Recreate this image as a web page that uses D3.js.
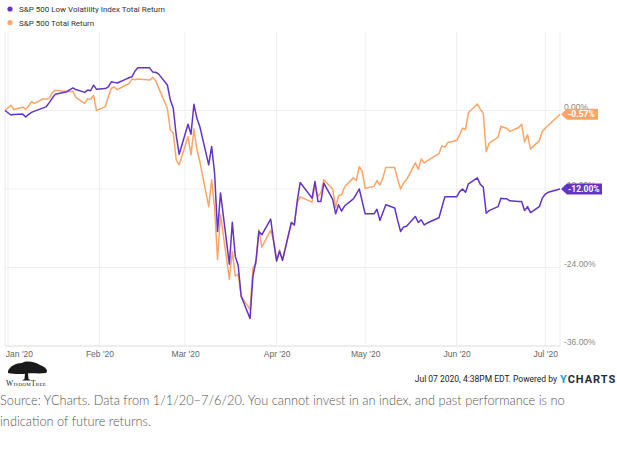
<!DOCTYPE html>
<html>
<head>
<meta charset="utf-8">
<script src="https://cdn.jsdelivr.net/npm/d3@7"></script>
<style>
  body { margin: 0; background: #fff; }
  svg { display: block; font-family: Roboto, "Liberation Sans", sans-serif; }
</style>
</head>
<body>
<div id="chart"></div>
<script>
// chart size
const w = 617;
const h = 449;

// series names
const names = ["S&P 500 Low Volatility Index Total Return", "S&P 500 Total Return"];

// trading days
const dates = [
  "2019-12-31","2020-01-02","2020-01-03","2020-01-06","2020-01-07","2020-01-08","2020-01-09","2020-01-10",
  "2020-01-13","2020-01-14","2020-01-15","2020-01-16","2020-01-17","2020-01-21","2020-01-22","2020-01-23",
  "2020-01-24","2020-01-27","2020-01-28","2020-01-29","2020-01-30","2020-01-31","2020-02-03","2020-02-04",
  "2020-02-05","2020-02-06","2020-02-07","2020-02-10","2020-02-11","2020-02-12","2020-02-13","2020-02-14",
  "2020-02-18","2020-02-19","2020-02-20","2020-02-21","2020-02-24","2020-02-25","2020-02-26","2020-02-27",
  "2020-02-28","2020-03-02","2020-03-03","2020-03-04","2020-03-05","2020-03-06","2020-03-09","2020-03-10",
  "2020-03-11","2020-03-12","2020-03-13","2020-03-16","2020-03-17","2020-03-18","2020-03-19","2020-03-20",
  "2020-03-23","2020-03-24","2020-03-25","2020-03-26","2020-03-27","2020-03-30","2020-03-31","2020-04-01",
  "2020-04-02","2020-04-03","2020-04-06","2020-04-07","2020-04-08","2020-04-09","2020-04-13","2020-04-14",
  "2020-04-15","2020-04-16","2020-04-17","2020-04-20","2020-04-21","2020-04-22","2020-04-23","2020-04-24",
  "2020-04-27","2020-04-28","2020-04-29","2020-04-30","2020-05-01","2020-05-04","2020-05-05","2020-05-06",
  "2020-05-07","2020-05-08","2020-05-11","2020-05-12","2020-05-13","2020-05-14","2020-05-15","2020-05-18",
  "2020-05-19","2020-05-20","2020-05-21","2020-05-22","2020-05-26","2020-05-27","2020-05-28","2020-05-29",
  "2020-06-01","2020-06-02","2020-06-03","2020-06-04","2020-06-05","2020-06-08","2020-06-09","2020-06-10",
  "2020-06-11","2020-06-12","2020-06-15","2020-06-16","2020-06-17","2020-06-18","2020-06-19","2020-06-22",
  "2020-06-23","2020-06-24","2020-06-25","2020-06-26","2020-06-29","2020-06-30","2020-07-01","2020-07-02",
  "2020-07-06"
];

// S&P 500 Low Volatility Index Total Return, % change
const lowVol = [
  0, -0.69, -0.6, -0.55, -1.0, -0.6, -0.28, -0.1,
  0.4, 0.6, 1.2, 1.9, 2.47, 2.87, 3.2, 3.45,
  3.2, 2.77, 3.12, 3.02, 3.89, 3.23, 3.35, 3.6,
  4.39, 4.3, 4.2, 4.8, 5.0, 5.15, 6.0, 6.52,
  6.52, 5.9, 5.85, 5.6, 3.9, 1.6, 0.33, -3.8,
  -6.7, -2.1, -3.63, 0.94, -1.19, -2.47, -8.3, -5.5,
  -9.6, -18.5, -12.6, -23.5, -17.1, -22.3, -23.7, -28.4,
  -31.8, -25.3, -23.0, -18.5, -19.0, -16.6, -20.0, -23.0,
  -21.5, -22.9, -17.1, -17.5, -13.8, -11.0, -13.4, -10.85,
  -13.9, -13.9, -11.1, -13.6, -15.8, -14.4, -15.4, -14.6,
  -13.5, -12.8, -12.0, -13.9, -15.8, -15.8, -15.1, -16.8,
  -15.6, -14.4, -14.9, -16.8, -18.5, -17.8, -17.7, -16.2,
  -17.1, -16.7, -17.5, -17.2, -16.4, -14.8, -13.2, -13.2,
  -13.2, -12.4, -12.0, -12.5, -11.2, -10.3, -11.3, -11.7,
  -15.7, -15.3, -14.7, -13.4, -13.5, -13.5, -13.8, -13.9,
  -13.9, -15.3, -14.7, -15.6, -14.7, -13.4, -12.8, -12.5,
  -12.0
];

// S&P 500 Total Return, % change
const sp500 = [
  0, 0.8, 0.15, 0.5, 0.2, 0.7, 1.35, 1.1,
  1.8, 1.7, 1.9, 2.7, 3.1, 2.9, 2.9, 2.95,
  2.0, 1.1, 1.8, 1.7, 2.3, 0.0, 0.6, 2.1,
  3.4, 3.6, 3.2, 3.9, 4.1, 4.8, 4.7, 4.8,
  4.65, 5.05, 4.6, 3.5, 0.3, -2.97, -3.45, -7.55,
  -8.3, -4.0, -6.8, -2.82, -6.0, -7.8, -14.7, -10.6,
  -14.9, -22.8, -15.9, -25.8, -21.5, -25.3, -25.0, -28.4,
  -30.4, -24.0, -23.5, -18.2, -20.9, -18.3, -19.9, -23.0,
  -21.3, -22.9, -17.2, -17.5, -14.1, -13.2, -14.0, -11.5,
  -13.1, -12.6, -10.6, -12.0, -14.8, -13.0, -12.9, -11.7,
  -10.3, -10.7, -8.6, -9.3, -11.9, -11.6, -10.7, -11.4,
  -10.3, -8.7, -8.7, -10.5, -12.0, -11.1, -10.6, -8.0,
  -9.0, -7.4, -8.0, -7.7, -6.6, -5.4, -5.6, -4.9,
  -4.6, -3.7, -2.7, -2.9, -0.3, 1.0, 0.2, -0.4,
  -6.3, -5.0, -4.1, -2.4, -2.6, -2.7, -3.2, -2.6,
  -2.1, -4.8, -3.7, -5.9, -4.6, -3.2, -2.7, -2.3,
  -0.57
];

// axis ticks
const yTicks = [0, -12, -24, -36];
const monthTicks = ["2020-01-01","2020-02-01","2020-03-01","2020-04-01","2020-05-01","2020-06-01","2020-07-01"];
const monthLabels = ["Jan '20","Feb '20","Mar '20","Apr '20","May '20","Jun '20","Jul '20"];

const colors = ["#6233c8", "#fda466"];

const parse = d3.timeParse("%Y-%m-%d");

// plot box
const pLeft = 5, pRight = 560, pTop = 32, pBottom = 346;

const svg = d3.select("#chart").append("svg")
  .attr("width", w)
  .attr("height", h);

const xScale = d3.scaleTime()
  .domain([parse(dates[0]), parse(dates[dates.length - 1])])
  .range([pLeft, pRight]);

const yScale = d3.scaleLinear()
  .domain([-36, 12])
  .range([pBottom, pTop]);

// gridlines
svg.append("g").selectAll("line")
  .data(monthTicks)
  .enter().append("line")
  .attr("x1", d => xScale(parse(d)))
  .attr("x2", d => xScale(parse(d)))
  .attr("y1", pTop)
  .attr("y2", pBottom)
  .attr("stroke", "#efefef")
  .attr("stroke-width", 1);

svg.append("g").selectAll("line")
  .data(yTicks)
  .enter().append("line")
  .attr("x1", pLeft)
  .attr("x2", pRight)
  .attr("y1", d => yScale(d))
  .attr("y2", d => yScale(d))
  .attr("stroke", "#efefef")
  .attr("stroke-width", 1);

// plot frame, left / right / bottom
svg.append("line").attr("x1", pLeft).attr("x2", pLeft).attr("y1", pTop).attr("y2", pBottom)
  .attr("stroke", "#e8e8e8");
svg.append("line").attr("x1", pRight).attr("x2", pRight).attr("y1", pTop).attr("y2", pBottom)
  .attr("stroke", "#efefef");
svg.append("line").attr("x1", pLeft).attr("x2", pRight).attr("y1", pBottom).attr("y2", pBottom)
  .attr("stroke", "#e3e3e3");

// x axis labels
const xAxis = d3.axisBottom(xScale)
  .tickValues(monthTicks.map(parse))
  .tickSize(0)
  .tickFormat((d, i) => monthLabels[i]);

const gx = svg.append("g")
  .attr("transform", "translate(0," + pBottom + ")")
  .call(xAxis);
gx.select(".domain").remove();
gx.selectAll("text")
  .attr("dy", "0")
  .attr("y", 11)
  .attr("fill", "#666")
  .style("font-size", "8.5px")
  .attr("x", (d, i) => i === 0 ? 11 : 0);

// y axis labels on the right
const yAxis = d3.axisRight(yScale)
  .tickValues(yTicks)
  .tickSize(0)
  .tickFormat(d => d.toFixed(2) + "%");

const gy = svg.append("g")
  .attr("transform", "translate(" + (pRight + 4) + ",0)")
  .call(yAxis);
gy.select(".domain").remove();
gy.selectAll("text")
  .attr("x", 0)
  .attr("dy", "0")
  .attr("y", -1.5)
  .attr("fill", "#888")
  .style("font-size", "8.5px");

// lines
const series = [lowVol, sp500];
const line = d3.line()
  .x((d, i) => xScale(parse(dates[i])))
  .y(d => yScale(d));

// orange under purple
[1, 0].forEach(k => {
  svg.append("path")
    .datum(series[k])
    .attr("d", line)
    .attr("fill", "none")
    .attr("stroke", colors[k])
    .attr("stroke-width", 1.5)
    .attr("stroke-linejoin", "round");
});

// last value tags
[1, 0].forEach(k => {
  const last = series[k][series[k].length - 1];
  const yc = yScale(last);
  const txt = last.toFixed(2) + "%";
  const bw = k === 0 ? 41 : 37;
  const x0 = pRight + 1;
  svg.append("path")
    .attr("d", "M" + x0 + "," + yc + "L" + (x0 + 6) + "," + (yc - 5.5) + "L" + (x0 + bw) + "," + (yc - 5.5) +
      "L" + (x0 + bw) + "," + (yc + 5.5) + "L" + (x0 + 6) + "," + (yc + 5.5) + "Z")
    .attr("fill", colors[k]);
  svg.append("text")
    .attr("x", x0 + 7)
    .attr("y", yc + 3.2)
    .attr("fill", "#fff")
    .style("font-size", "8.5px")
    .style("font-weight", "bold")
    .text(txt);
});

// legend
const legend = svg.append("g");
names.forEach((n, i) => {
  const ly = 9 + i * 13.5;
  legend.append("circle")
    .attr("cx", 10)
    .attr("cy", ly)
    .attr("r", 2.6)
    .attr("fill", colors[i]);
  legend.append("text")
    .attr("x", 19)
    .attr("y", ly + 3)
    .attr("fill", "#333")
    .style("font-size", "8px")
    .text(n);
});

// footer: WisdomTree mark
const logo = svg.append("g").attr("transform", "translate(8,361)");
logo.append("path")
  .attr("d", "M0,10 C2,5 8,2 14,2 C19,-1 27,1 32,4 C37,6 41,9 38,12 C32,13 25,12 19,12.5 C12,13.5 5,13 0,12 Z")
  .attr("fill", "#1a1a1a");
logo.append("path")
  .attr("d", "M17,12 L16.5,18 L14,19.5 L23,19.5 L20.5,18 L20,12 Z")
  .attr("fill", "#1a1a1a");
logo.append("text")
  .attr("x", -2)
  .attr("y", 25)
  .attr("fill", "#222")
  .style("font-family", "'Liberation Serif', serif")
  .style("font-size", "7.5px")
  .style("font-variant", "small-caps")
  .style("letter-spacing", "0.3px")
  .text("WisdomTree");

// footer: timestamp
svg.append("text")
  .attr("x", 557)
  .attr("y", 382)
  .attr("text-anchor", "end")
  .attr("fill", "#222")
  .style("font-size", "8.5px")
  .text("Jul 07 2020, 4:38PM EDT. Powered by");

const brand = svg.append("text")
  .attr("x", 560)
  .attr("y", 382.5)
  .style("font-size", "11px")
  .style("font-weight", "bold")
  .style("letter-spacing", "1px");
brand.append("tspan").attr("fill", "#1b9ad6").text("Y");
brand.append("tspan").attr("fill", "#1f2b3d").text("CHARTS");

// source note
const note = svg.append("g")
  .style("font-family", "Lato, 'Open Sans', sans-serif")
  .style("font-weight", "300")
  .style("font-size", "12.8px")
  .attr("fill", "#555");
note.append("text").attr("x", 0).attr("y", 405)
  .text("Source: YCharts. Data from 1/1/20\u20137/6/20. You cannot invest in an index, and past performance is no");
note.append("text").attr("x", 0).attr("y", 426)
  .text("indication of future returns.");
</script>
</body>
</html>
